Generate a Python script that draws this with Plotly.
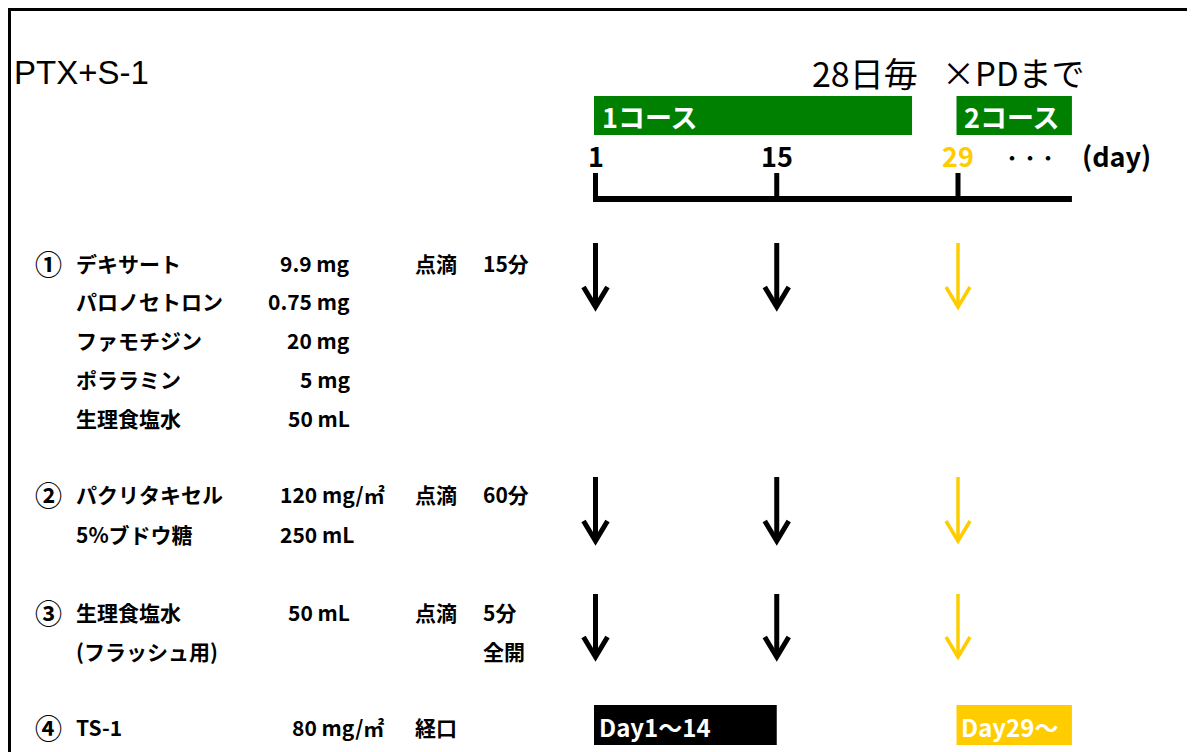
import plotly.graph_objects as go

# ---------------- data ----------------
regimen_title = "PTX+S-1"
cycle_text_a = "28日毎"
cycle_text_b = "×PDまで"

timeline_days = [1, 15, 29]
timeline_day_labels = ["1", "15", "29"]
timeline_end_day = 37.8
day_unit_label = "(day)"
continuation_mark = "・・・"

course_labels = ["1コース", "2コース"]
course_start_day = [1, 29]
course_end_day = [25.45, 37.8]

infusion_days = [1, 15, 29]

ts1_labels = ["Day1～14", "Day29～"]
ts1_start_day = [1, 29]
ts1_end_day = [15, 37.8]

step_numbers = ["①", "②", "③", "④"]
drug_names = ["デキサート", "パロノセトロン", "ファモチジン", "ポララミン", "生理食塩水",
              "パクリタキセル", "5%ブドウ糖",
              "生理食塩水", "(フラッシュ用)",
              "TS-1"]
drug_doses = ["9.9 mg", "0.75 mg", "20 mg", "5 mg", "50 mL",
              "120 mg/㎡", "250 mL",
              "50 mL", "",
              "80 mg/㎡"]
step_routes = ["点滴", "点滴", "点滴", "経口"]
step_times = [["15分"], ["60分"], ["5分", "全開"], []]

# ---------------- layout / style ----------------
W, H = 1195, 752
OFF = 8  # page body margin: screen pixel = plot pixel + OFF
PX_PER_DAY = (958 - 595.5) / 28.0
X_LEFT = 1 - (595.5 - OFF) / PX_PER_DAY
X_RIGHT = X_LEFT + W / PX_PER_DAY

BLACK = "#000000"
YELLOW = "#FFCC00"
GREEN = "#008000"
day_colors = [BLACK, BLACK, YELLOW]
ts1_colors = [BLACK, YELLOW]

JP = "Noto Sans CJK JP"
LAT = "Liberation Sans"

line_y = [263, 301, 340, 379, 418, 494, 534, 612, 651, 727]
step_first_line = [0, 5, 7, 9]
dose_x = [352, 352, 352, 352, 352, 278, 278, 352, 352, 290]
dose_anchor = ["right"] * 5 + ["left", "left"] + ["right", "right"] + ["left"]
arrow_rows = [(243, 307), (477, 541), (594, 657)]

fig = go.Figure()

# invisible trace to anchor the pixel axis
fig.add_trace(go.Scatter(x=[OFF, OFF + W], y=[OFF, OFF + H], xaxis="x2", yaxis="y", mode="markers",
                         marker=dict(opacity=0), hoverinfo="skip", showlegend=False))

shapes = []
annotations = []

# frame
shapes.append(dict(type="rect", xref="x2", yref="y", x0=9.5, x1=W + 80, y0=9.5, y1=H + 80,
                   line=dict(color=BLACK, width=3), fillcolor="rgba(0,0,0,0)", layer="below"))

# title texts
annotations.append(dict(xref="x2", yref="y", x=12, y=72, text=regimen_title, showarrow=False,
                        xanchor="left", yanchor="middle", font=dict(family=LAT, size=33, color=BLACK)))
annotations.append(dict(xref="x2", yref="y", x=810, y=72, text=cycle_text_a, showarrow=False,
                        xanchor="left", yanchor="middle", font=dict(family=JP, size=34, color=BLACK)))
annotations.append(dict(xref="x2", yref="y", x=1087, y=72, text=cycle_text_b, showarrow=False,
                        xanchor="right", yanchor="middle", font=dict(family=JP, size=33, color=BLACK)))

# courses
for lab, s, e in zip(course_labels, course_start_day, course_end_day):
    shapes.append(dict(type="rect", xref="x", yref="y", x0=s - 1.5 / PX_PER_DAY, x1=e, y0=96, y1=135,
                       line=dict(width=0), fillcolor=GREEN))
    annotations.append(dict(xref="x", yref="y", x=s + 4 / PX_PER_DAY, y=116, text=lab, showarrow=False,
                            xanchor="left", yanchor="middle",
                            font=dict(family=JP, size=27, color="white", weight="bold")))

# timeline
shapes.append(dict(type="line", xref="x", yref="y", x0=timeline_days[0], x1=timeline_end_day,
                   y0=199, y1=199, line=dict(color=BLACK, width=6)))
for d, lab, c in zip(timeline_days, timeline_day_labels, day_colors):
    shapes.append(dict(type="line", xref="x", yref="y", x0=d, x1=d, y0=173, y1=202,
                       line=dict(color=BLACK, width=5)))
    annotations.append(dict(xref="x", yref="y", x=d, y=155, text=lab, showarrow=False,
                            xanchor="center", yanchor="middle",
                            font=dict(family=JP, size=27, color=c, weight="bold")))
annotations.append(dict(xref="x2", yref="y", x=1030, y=157, text=continuation_mark, showarrow=False,
                        xanchor="center", yanchor="middle",
                        font=dict(family=JP, size=18, color=BLACK, weight="bold")))
annotations.append(dict(xref="x2", yref="y", x=1080, y=155, text=day_unit_label, showarrow=False,
                        xanchor="left", yanchor="middle",
                        font=dict(family=JP, size=27, color=BLACK, weight="bold")))

# infusion arrows
hw = 12 / PX_PER_DAY
hl = 20
for col, w in ((BLACK, 5), (YELLOW, 3.5)):
    xs, ys = [], []
    for d, c in zip(infusion_days, day_colors):
        if c != col:
            continue
        for top, tip in arrow_rows:
            xs += [d, d, None, d - hw, d, d + hw, None]
            ys += [top, tip - 2, None, tip - hl, tip, tip - hl, None]
    fig.add_trace(go.Scatter(x=xs, y=ys, mode="lines", line=dict(color=col, width=w),
                             hoverinfo="skip", showlegend=False))

# TS-1 boxes
for lab, s, e, c in zip(ts1_labels, ts1_start_day, ts1_end_day, ts1_colors):
    shapes.append(dict(type="rect", xref="x", yref="y", x0=s - 1.5 / PX_PER_DAY, x1=e, y0=705, y1=745,
                       line=dict(width=0), fillcolor=c))
    annotations.append(dict(xref="x", yref="y", x=s + 1 / PX_PER_DAY, y=726, text=lab, showarrow=False,
                            xanchor="left", yanchor="middle",
                            font=dict(family=JP, size=24, color="white", weight="bold")))

# drug table
tfont = dict(family=JP, size=21, color=BLACK, weight="bold")
nfont = dict(family=JP, size=27, color=BLACK, weight="bold")
for i, (name, dose) in enumerate(zip(drug_names, drug_doses)):
    annotations.append(dict(xref="x2", yref="y", x=74, y=line_y[i], text=name, showarrow=False,
                            xanchor="left", yanchor="middle", font=tfont))
    if dose:
        annotations.append(dict(xref="x2", yref="y", x=dose_x[i], y=line_y[i], text=dose, showarrow=False,
                                xanchor=dose_anchor[i], yanchor="middle", font=tfont))
for k, num in enumerate(step_numbers):
    yy = line_y[step_first_line[k]]
    annotations.append(dict(xref="x2", yref="y", x=48, y=yy, text=num, showarrow=False,
                            xanchor="center", yanchor="middle", font=nfont))
    annotations.append(dict(xref="x2", yref="y", x=413, y=yy, text=step_routes[k], showarrow=False,
                            xanchor="left", yanchor="middle", font=tfont))
    for j, t in enumerate(step_times[k]):
        annotations.append(dict(xref="x2", yref="y", x=481, y=line_y[step_first_line[k] + j], text=t,
                                showarrow=False, xanchor="left", yanchor="middle", font=tfont))

fig.update_layout(
    width=W, height=H, margin=dict(l=0, r=0, t=0, b=0),
    paper_bgcolor="white", plot_bgcolor="white",
    xaxis=dict(range=[X_LEFT, X_RIGHT], visible=False, fixedrange=True),
    xaxis2=dict(range=[OFF, OFF + W], overlaying="x", visible=False, fixedrange=True),
    yaxis=dict(range=[OFF + H, OFF], visible=False, fixedrange=True),
    shapes=shapes, annotations=annotations, showlegend=False,
)

fig.write_html("out.html")
